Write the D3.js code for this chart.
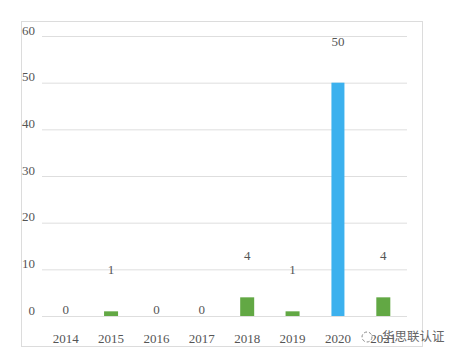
<!DOCTYPE html>
<html>
<head>
<meta charset="utf-8">
<script src="https://cdn.jsdelivr.net/npm/d3@7"></script>
<style>
  html, body { margin: 0; padding: 0; background: #fff; }
  svg { display: block; }
  text { font-family: "Liberation Serif", serif; }
</style>
</head>
<body>
<div id="chart"></div>
<script>
const years = ["2014", "2015", "2016", "2017", "2018", "2019", "2020", "2021"];
const counts = [0, 1, 0, 0, 4, 1, 50, 4];
const yTicks = [0, 10, 20, 30, 40, 50, 60];

const width = 454, height = 364;
const colorGreen = "#62a844", colorBlue = "#3cb1ee", colorText = "#555";

const svg = d3.select("#chart")
    .append("svg")
    .attr("width", width)
    .attr("height", height);

// Outer frame
svg.append("rect")
    .attr("x", 21.5)
    .attr("y", 21.5)
    .attr("width", 401)
    .attr("height", 325)
    .attr("fill", "none")
    .attr("stroke", "#dcdcdc");

// Scales
const x = d3.scaleBand().domain(years).range([43, 406]);
const y = d3.scaleLinear().domain([0, 60]).range([316, 36]);

// Y-axis with gridlines
const yAxis = svg.append("g")
    .attr("transform", "translate(42,0)")
    .call(d3.axisLeft(y).tickValues(yTicks).tickSize(-365).tickPadding(7));
yAxis.select(".domain").remove();
yAxis.selectAll("line").attr("stroke", "#dedede");
yAxis.selectAll("text")
    .attr("dy", "-0.15em")
    .style("font-size", "13px")
    .style("fill", colorText);

// X-axis
const xAxis = svg.append("g")
    .attr("transform", "translate(0,316)")
    .call(d3.axisBottom(x).tickSize(0).tickPadding(18));
xAxis.select(".domain").remove();
xAxis.selectAll("text")
    .style("font-size", "13px")
    .style("fill", colorText);

// Bars
svg.selectAll("rect.bar")
    .data(counts)
    .join("rect")
    .attr("class", "bar")
    .attr("x", (d, i) => x(years[i]) + x.bandwidth() / 2 - (d === 50 ? 6.5 : 7))
    .attr("y", d => y(d))
    .attr("width", d => d === 50 ? 13 : 14)
    .attr("height", d => y(0) - y(d))
    .attr("fill", d => d === 50 ? colorBlue : colorGreen);

// Value labels float well above the bars, zeros sit just over the axis
svg.selectAll("text.value")
    .data(counts)
    .join("text")
    .attr("class", "value")
    .attr("x", (d, i) => x(years[i]) + x.bandwidth() / 2)
    .attr("y", d => d === 0 ? y(0) - 2 : y(d) - 37)
    .attr("text-anchor", "middle")
    .style("font-size", "13px")
    .style("fill", colorText)
    .text(d => d);

// Watermark
const mark = svg.append("g").attr("transform", "translate(370,337)");
mark.append("circle").attr("r", 5).attr("cx", -3)
    .attr("fill", "#fff").attr("stroke", "#888").attr("stroke-dasharray", "3 2");
mark.append("text")
    .attr("x", 12)
    .attr("y", 4)
    .style("font-family", "'Noto Sans CJK SC'")
    .style("font-size", "12.5px")
    .style("fill", "#666")
    .text("华思联认证");
</script>
</body>
</html>
